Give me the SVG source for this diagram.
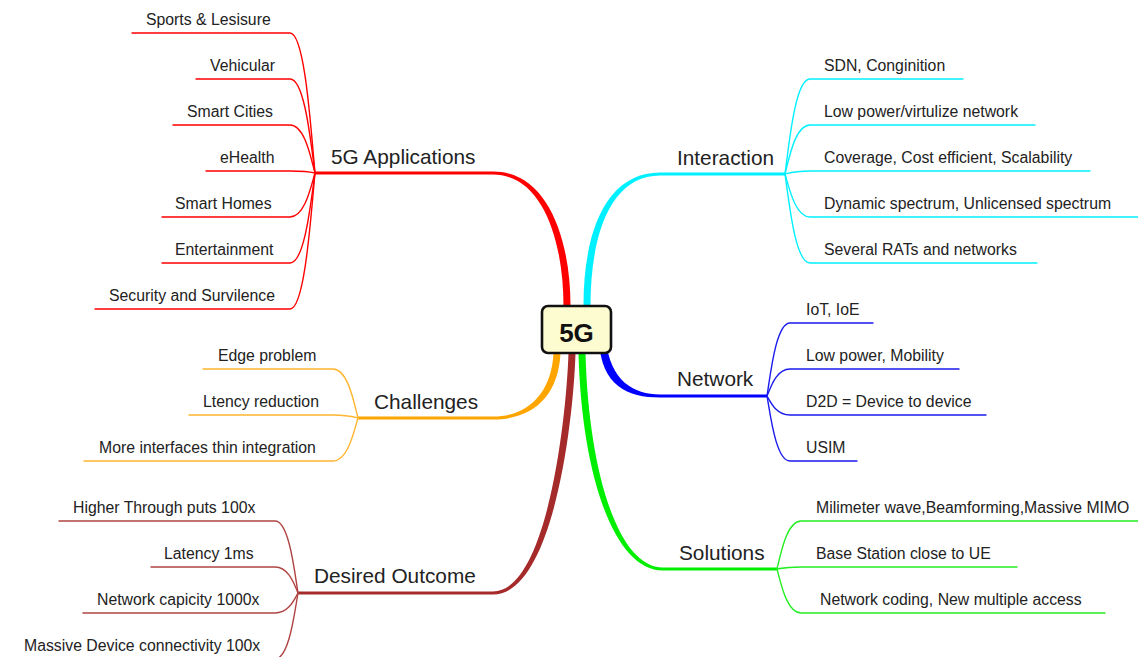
<svg xmlns="http://www.w3.org/2000/svg" width="1138" height="657" viewBox="0 0 1138 657">
  <style>
    .leaf { fill: none; stroke-width: 1.4; stroke-linecap: round; }
    .trunk { stroke: none; }
    .t { font-family: "Liberation Sans", Arial, sans-serif; font-size: 15.8px; fill: #222; }
    .h { font-family: "Liberation Sans", Arial, sans-serif; font-size: 20.8px; fill: #222; }
    .root { fill: #fdfbd0; stroke: #111; stroke-width: 2.6; }
    .rootText { font-family: "Liberation Sans", Arial, sans-serif; font-size: 26px; font-weight: bold; fill: #111; text-anchor: middle; }
    .red { stroke: #ff0000; } .redF { fill: #ff0000; }
    .cyan { stroke: #00f0ff; } .cyanF { fill: #00f0ff; }
    .blue { stroke: #1a1aee; } .blueF { fill: #0000ff; }
    .green { stroke: #22ee22; } .greenF { fill: #00ee00; }
    .orange { stroke: #ffb52e; } .orangeF { fill: #ffa500; }
    .brown { stroke: #b04444; } .brownF { fill: #a52a2a; }
  </style>

  <rect width="1138" height="657" fill="#ffffff"/>

  <g id="connectors">
    <!-- tapered main branches, thick at the root box -->
    <path class="trunk redF" d="M570.5,315 L570.5,306 C570.5,238 547,171.5 493,171.5 L315,171.5 L315,174.5 L493,174.5 C543,174.5 563.5,242 563.5,306 L563.5,315 Z"/>
    <path class="trunk cyanF" d="M583.5,315 L583.5,306 C583.5,228 608,172.5 660,172.5 L785,172.5 L785,175.5 L660,175.5 C612,175.5 590.5,232 590.5,306 L590.5,315 Z"/>
    <path class="trunk blueF" d="M599,340 C601,386 628,397.5 660,397.5 L767,397.5 L767,394.5 L660,394.5 C634,394.5 610,381 606,340 Z"/>
    <path class="trunk greenF" d="M578.5,345 L578.5,353 C581.5,472 613,570.5 663,570.5 L777,570.5 L777,567.5 L663,567.5 C617,567.5 588.5,468 585.5,353 L585.5,345 Z"/>
    <path class="trunk orangeF" d="M560.5,345 L560.5,353 C558.5,397 532,419.5 493,419.5 L358,419.5 L358,416.5 L493,416.5 C528,416.5 551.5,393 553.5,353 L553.5,345 Z"/>
    <path class="trunk brownF" d="M575.5,345 L575.5,353 C573.5,422 553,594.5 493,594.5 L298,594.5 L298,591.5 L493,591.5 C547,591.5 566.5,418 568.5,353 L568.5,345 Z"/>

    <!-- 5G Applications leaves -->
    <path class="leaf red" d="M132,33 L290,33 C305,33 311,131 315,173"/>
    <path class="leaf red" d="M196,79 L290,79 C305,79 311,145 315,173"/>
    <path class="leaf red" d="M173,125 L290,125 C305,125 311,159 315,173"/>
    <path class="leaf red" d="M206,171 L290,171 C305,171 311,172 315,173"/>
    <path class="leaf red" d="M162,217 L290,217 C305,217 311,186 315,173"/>
    <path class="leaf red" d="M162,263 L290,263 C305,263 311,200 315,173"/>
    <path class="leaf red" d="M95,309 L290,309 C305,309 311,214 315,173"/>

    <!-- Interaction leaves -->
    <path class="leaf cyan" d="M963,79 L810,79 C795,79 789,145 785,174"/>
    <path class="leaf cyan" d="M1035,125 L810,125 C795,125 789,159 785,174"/>
    <path class="leaf cyan" d="M1090,171 L810,171 C795,171 789,173 785,174"/>
    <path class="leaf cyan" d="M1140,217 L810,217 C795,217 789,187 785,174"/>
    <path class="leaf cyan" d="M1037,263 L810,263 C795,263 789,201 785,174"/>

    <!-- Network leaves -->
    <path class="leaf blue" d="M873,323 L790,323 C776,323 770.5,374 767,396"/>
    <path class="leaf blue" d="M959,369 L790,369 C776,369 770.5,388 767,396"/>
    <path class="leaf blue" d="M986,415 L790,415 C776,415 770.5,402 767,396"/>
    <path class="leaf blue" d="M857,461 L790,461 C776,461 770.5,415.5 767,396"/>

    <!-- Solutions leaves -->
    <path class="leaf green" d="M1140,521 L801,521 C786.6,521 780.6,554.6 777,569"/>
    <path class="leaf green" d="M1017,567 L801,567 C786.6,567 780.6,568.4 777,569"/>
    <path class="leaf green" d="M1105,613 L801,613 C786.6,613 780.6,582 777,569"/>

    <!-- Challenges leaves -->
    <path class="leaf orange" d="M203,369 L333,369 C348,369 354,403 358,418"/>
    <path class="leaf orange" d="M189,415 L333,415 C348,415 354,417 358,418"/>
    <path class="leaf orange" d="M84,461 L333,461 C348,461 354,431 358,418"/>

    <!-- Desired Outcome leaves -->
    <path class="leaf brown" d="M59,521 L275,521 C289,521 294.5,571 298,593"/>
    <path class="leaf brown" d="M151,567 L275,567 C289,567 294.5,585 298,593"/>
    <path class="leaf brown" d="M83,613 L275,613 C289,613 294.5,599 298,593"/>
    <path class="leaf brown" d="M10,659 L275,659 C289,659 294.5,613 298,593"/>
  </g>

  <g id="node-5g">
    <rect class="root" x="542" y="306" width="69" height="47" rx="6"/>
    <text class="rootText" x="576.5" y="342">5G</text>
  </g>

  <g id="node-applications">
    <text class="h" x="331" y="164">5G Applications</text>
    <text class="t" x="146" y="25">Sports &amp; Lesisure</text>
    <text class="t" x="210" y="71">Vehicular</text>
    <text class="t" x="187" y="117">Smart Cities</text>
    <text class="t" x="220" y="163">eHealth</text>
    <text class="t" x="175" y="209">Smart Homes</text>
    <text class="t" x="175" y="255">Entertainment</text>
    <text class="t" x="109" y="301">Security and Survilence</text>
  </g>

  <g id="node-interaction">
    <text class="h" x="677" y="165">Interaction</text>
    <text class="t" x="824" y="71">SDN, Conginition</text>
    <text class="t" x="824" y="117">Low power/virtulize network</text>
    <text class="t" x="824" y="163">Coverage, Cost efficient, Scalability</text>
    <text class="t" x="824" y="209">Dynamic spectrum, Unlicensed spectrum</text>
    <text class="t" x="824" y="255">Several RATs and networks</text>
  </g>

  <g id="node-network">
    <text class="h" x="677" y="386">Network</text>
    <text class="t" x="806" y="315">IoT, IoE</text>
    <text class="t" x="806" y="361">Low power, Mobility</text>
    <text class="t" x="806" y="407">D2D = Device to device</text>
    <text class="t" x="806" y="453">USIM</text>
  </g>

  <g id="node-solutions">
    <text class="h" x="679" y="560">Solutions</text>
    <text class="t" x="816" y="513">Milimeter wave,Beamforming,Massive MIMO</text>
    <text class="t" x="816" y="559">Base Station close to UE</text>
    <text class="t" x="820" y="605">Network coding, New multiple access</text>
  </g>

  <g id="node-challenges">
    <text class="h" x="374" y="409">Challenges</text>
    <text class="t" x="218" y="361">Edge problem</text>
    <text class="t" x="203" y="407">Ltency reduction</text>
    <text class="t" x="99" y="453">More interfaces thin integration</text>
  </g>

  <g id="node-outcome">
    <text class="h" x="314" y="583">Desired Outcome</text>
    <text class="t" x="73" y="513">Higher Through puts 100x</text>
    <text class="t" x="164" y="559">Latency 1ms</text>
    <text class="t" x="97" y="605">Network capicity 1000x</text>
    <text class="t" x="24" y="651">Massive Device connectivity 100x</text>
  </g>
</svg>
